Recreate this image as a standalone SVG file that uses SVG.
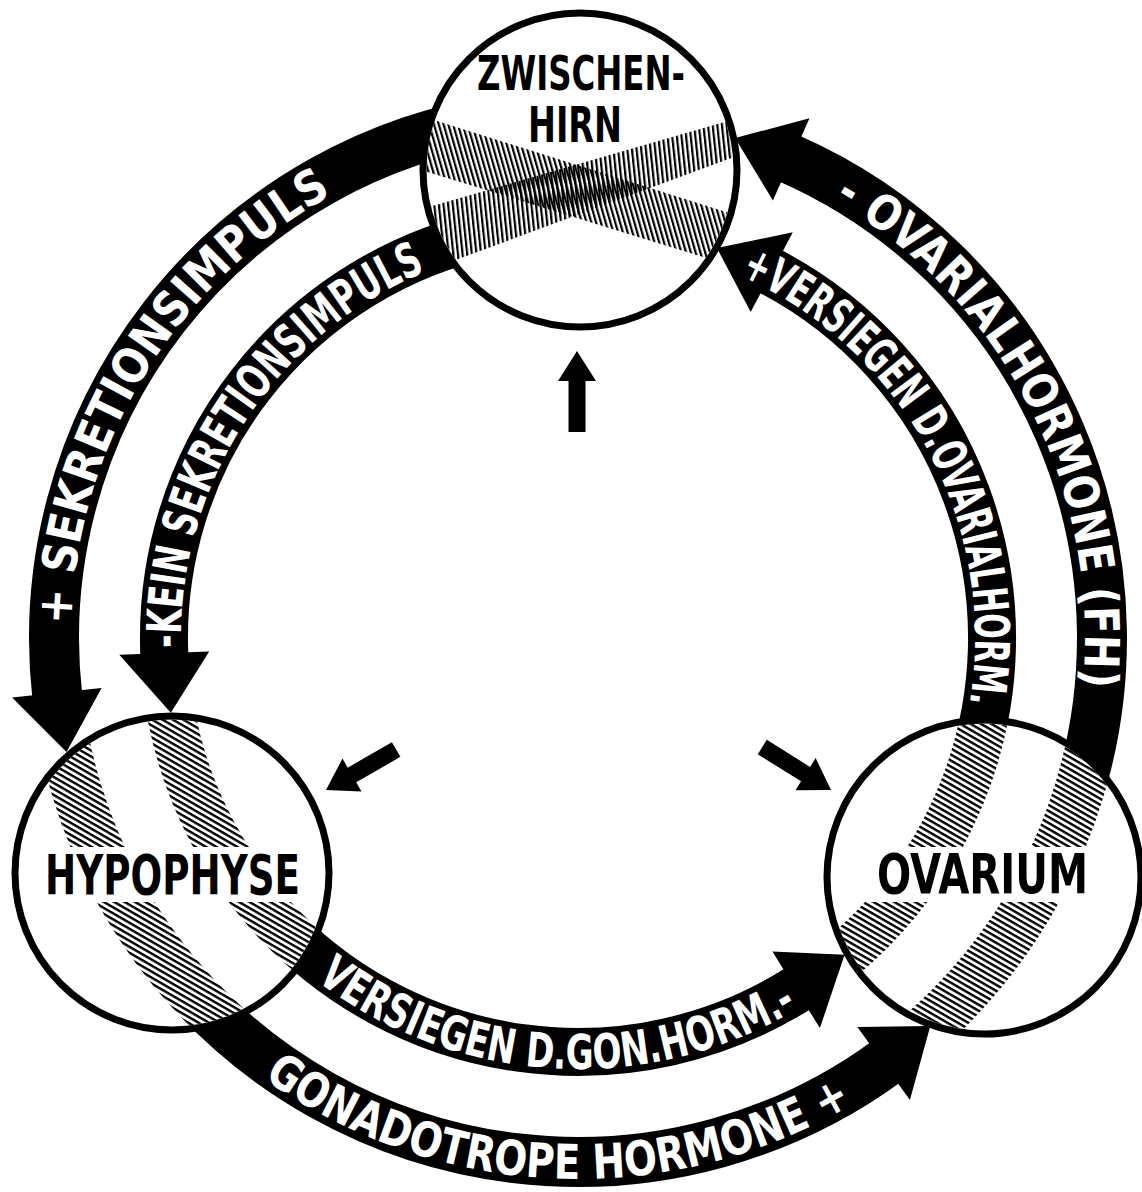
<svg xmlns="http://www.w3.org/2000/svg" xmlns:xlink="http://www.w3.org/1999/xlink" width="1142" height="1192" viewBox="0 0 1142 1192">
<style>
.band{fill:none;stroke:#000;stroke-width:50}
.bandi{fill:none;stroke:#000;stroke-width:48}
.head{fill:#000}
.bt{fill:#fff;font-family:'DejaVu Sans Condensed','DejaVu Sans',sans-serif;font-weight:bold;font-stretch:condensed;font-size:48px}
.fill{fill:#fff}
.ring{fill:none;stroke:#000;stroke-width:7}
.lbl{fill:#000;font-family:'DejaVu Sans Condensed','DejaVu Sans',sans-serif;font-weight:bold;font-stretch:condensed}
</style>
<defs>
  <pattern id="hatchZA" patternUnits="userSpaceOnUse" width="4.6" height="20" patternTransform="rotate(-16)"><rect x="0" y="0" width="2.2" height="20" fill="#000"/></pattern>
  <pattern id="hatchZB" patternUnits="userSpaceOnUse" width="4.6" height="20" patternTransform="rotate(-6)"><rect x="0" y="0" width="2.2" height="20" fill="#000"/></pattern>
  <pattern id="hatchHO" patternUnits="userSpaceOnUse" width="20" height="5.2" patternTransform="rotate(30)"><rect x="0" y="0" width="20" height="2.4" fill="#000"/></pattern>
  <clipPath id="cZ"><circle cx="580" cy="170" r="153.5"/></clipPath>
  <clipPath id="cH"><circle cx="172" cy="873" r="153.5"/></clipPath>
  <clipPath id="cO"><circle cx="984" cy="877" r="153.5"/></clipPath>
  <clipPath id="rings"><path clip-rule="evenodd" d="M29 638a549 549 0 1 0 1098 0a549 549 0 1 0 -1098 0Z M79 638a499 499 0 1 0 998 0a499 499 0 1 0 -998 0Z M140 638a438 438 0 1 0 876 0a438 438 0 1 0 -876 0Z M188 638a390 390 0 1 0 780 0a390 390 0 1 0 -780 0Z"/></clipPath>
  <clipPath id="noText"><rect x="0" y="0" width="1142" height="847"/><rect x="0" y="902" width="1142" height="290"/></clipPath>
  <path id="t1" d="M71.2 624.7A507 507 0 0 1 332.2 194.6"/>
  <path id="t2" d="M181.1 647.7A397 397 0 0 1 426.1 271.2"/>
  <path id="t3" d="M263.8 1078.4A541 541 0 0 0 852.6 1104.1"/>
  <path id="t4" d="M316.2 980.4A431 431 0 0 0 798.1 1008.6"/>
  <path id="t5" d="M833.8 200.3A507 507 0 0 1 1082.7 686.6"/>
  <path id="t6" d="M740.1 275.6A397 397 0 0 1 969.6 703.5"/>
  <path id="smallArrow" d="M0 0L-30 -19L-30 -8.5L-81 -8.5L-81 8.5L-30 8.5L-30 19Z"/>
</defs>
<rect width="1142" height="1192" fill="#fff"/>

<g id="connectors">
  <!-- + SEKRETIONSIMPULS (Zwischenhirn -> Hypophyse, outer) -->
  <path class="band" d="M505.1 119.1A524 524 0 0 0 57.4 697.3"/>
  <polygon class="head" points="66.5,751.9 12.1,697.5 101.6,688.1"/>
  <text class="bt"><textPath xlink:href="#t1" href="#t1" textLength="526" lengthAdjust="spacingAndGlyphs">+ SEKRETIONSIMPULS</textPath></text>
  <!-- - KEIN SEKRETIONSIMPULS (inner) -->
  <path class="bandi" d="M491.9 233A414 414 0 0 0 164.4 656.8"/>
  <polygon class="head" points="170.8,712.7 119.3,654.8 209.2,651.5"/>
  <text class="bt"><textPath xlink:href="#t2" href="#t2" textLength="477" lengthAdjust="spacingAndGlyphs">-KEIN SEKRETIONSIMPULS</textPath></text>
  <!-- GONADOTROPE HORMONE + (Hypophyse -> Ovarium, outer) -->
  <path class="band" d="M176.6 974.8A524 524 0 0 0 887.5 1060.8"/>
  <polygon class="head" points="930.3,1025.9 909.9,1100.1 857.4,1027"/>
  <text class="bt"><textPath xlink:href="#t3" href="#t3" textLength="623" lengthAdjust="spacingAndGlyphs">GONADOTROPE HORMONE +</textPath></text>
  <!-- VERSIEGEN D.GON.HORM. - (inner) -->
  <path class="bandi" d="M270.3 915A414 414 0 0 0 799.2 987.9"/>
  <polygon class="head" points="844.6,954.8 819.9,1028.1 772.4,951.6"/>
  <text class="bt"><textPath xlink:href="#t4" href="#t4" textLength="512" lengthAdjust="spacingAndGlyphs">VERSIEGEN D.GON.HORM.-</textPath></text>
  <!-- - OVARIALHORMONE (FH) (Ovarium -> Zwischenhirn, outer) -->
  <path class="band" d="M1070.4 817.2A524 524 0 0 0 786.9 157.5"/>
  <polygon class="head" points="735.1,138.1 809.5,118.2 772.9,200.4"/>
  <text class="bt"><textPath xlink:href="#t5" href="#t5" textLength="577" lengthAdjust="spacingAndGlyphs">- OVARIALHORMONE (FH)</textPath></text>
  <!-- + VERSIEGEN D.OVARIALHORM. (inner) -->
  <path class="bandi" d="M961.9 793.1A414 414 0 0 0 768.5 270.4"/>
  <polygon class="head" points="716.9,248 792.8,232.3 750.7,311.9"/>
  <text class="bt"><textPath xlink:href="#t6" href="#t6" textLength="522" lengthAdjust="spacingAndGlyphs">+VERSIEGEN D.OVARIALHORM.</textPath></text>
  <!-- small arrows -->
  <use xlink:href="#smallArrow" href="#smallArrow" transform="translate(577 351) rotate(-90)"/>
  <use xlink:href="#smallArrow" href="#smallArrow" transform="translate(326 790) rotate(150)"/>
  <use xlink:href="#smallArrow" href="#smallArrow" transform="translate(831 790) rotate(32)"/>
</g>

<g id="zwischenhirn">
  <circle class="fill" cx="580" cy="170" r="157"/>
  <g clip-path="url(#cZ)">
    <polygon points="415,114 745,218 745,270 415,168" fill="url(#hatchZA)"/>
    <polygon points="415,211 745,116 745,153 415,275" fill="url(#hatchZB)"/>
  </g>
  <circle class="ring" cx="580" cy="170" r="157"/>
  <text class="lbl" x="477" y="90" font-size="48" textLength="208" lengthAdjust="spacingAndGlyphs">ZWISCHEN-</text>
  <text class="lbl" x="528" y="142" font-size="49" textLength="94" lengthAdjust="spacingAndGlyphs">HIRN</text>
</g>

<g id="hypophyse">
  <circle class="fill" cx="172" cy="873" r="157"/>
  <g clip-path="url(#cH)"><g clip-path="url(#rings)"><g clip-path="url(#noText)">
    <rect x="0" y="700" width="350" height="350" fill="url(#hatchHO)"/>
  </g></g></g>
  <circle class="ring" cx="172" cy="873" r="157"/>
  <text class="lbl" x="45" y="894" font-size="55" textLength="255" lengthAdjust="spacingAndGlyphs">HYPOPHYSE</text>
</g>

<g id="ovarium">
  <circle class="fill" cx="984" cy="877" r="157"/>
  <g clip-path="url(#cO)"><g clip-path="url(#rings)"><g clip-path="url(#noText)">
    <rect x="810" y="700" width="340" height="360" fill="url(#hatchHO)"/>
  </g></g></g>
  <circle class="ring" cx="984" cy="877" r="157"/>
  <text class="lbl" x="877" y="893" font-size="56" textLength="211" lengthAdjust="spacingAndGlyphs">OVARIUM</text>
</g>
</svg>
